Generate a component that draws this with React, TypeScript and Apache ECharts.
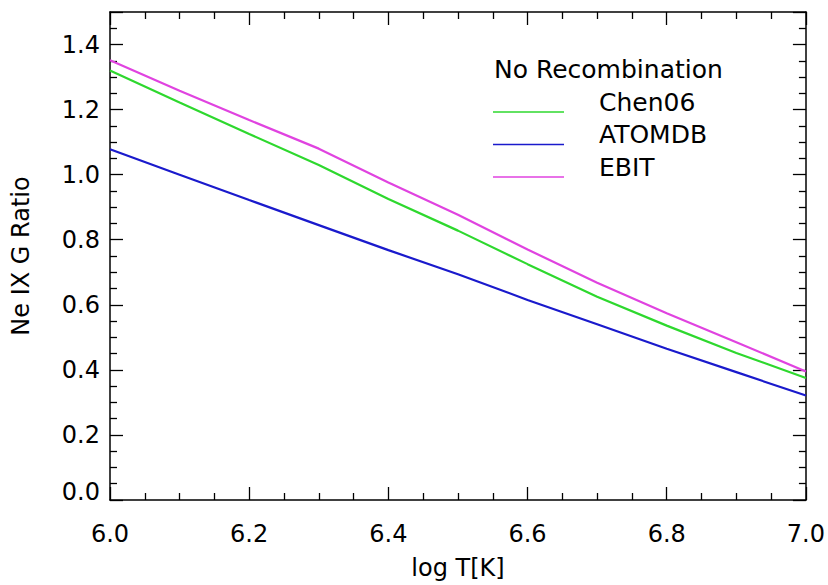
import React, { useEffect, useRef } from "react";
import * as echarts from "echarts";

const logT = [6.0, 6.1, 6.2, 6.3, 6.4, 6.5, 6.6, 6.7, 6.8, 6.9, 7.0];
const chen06 = [1.32, 1.222, 1.125, 1.03, 0.925, 0.828, 0.725, 0.625, 0.536, 0.452, 0.375];
const atomdb = [1.078, 1.0, 0.922, 0.845, 0.768, 0.694, 0.615, 0.54, 0.465, 0.393, 0.321];
const ebit = [1.352, 1.258, 1.168, 1.08, 0.976, 0.877, 0.77, 0.668, 0.574, 0.485, 0.395];

const seriesNames = ["Chen06", "ATOMDB", "EBIT"];
const seriesColors = ["#2ed82e", "#1a1acc", "#e043e0"];
const legendTitle = "No Recombination";
const xName = "log T[K]";
const yName = "Ne IX G Ratio";

const FONT = "'DejaVu Sans', 'Liberation Sans', Arial, sans-serif";

export default function App() {
  const ref = useRef<HTMLDivElement>(null);
  useEffect(() => {
    if (!ref.current) return;
    const chart = echarts.init(ref.current, undefined, { renderer: "svg" });
    const values = [chen06, atomdb, ebit];
    const axisCommon = {
      axisLine: { show: true, onZero: false, lineStyle: { color: "#000", width: 1.5 } },
      axisTick: { show: true, inside: true, length: 13, lineStyle: { color: "#000", width: 1.3 } },
      minorTick: { show: true, splitNumber: 4, length: 7, lineStyle: { color: "#000", width: 1.3 } },
      splitLine: { show: false },
    };
    chart.setOption({
      animation: false,
      backgroundColor: "#fff",
      textStyle: { fontFamily: FONT },
      grid: { left: 110, right: 20.5, top: 12, bottom: 77, containLabel: false },
      xAxis: [
        {
          type: "value",
          min: 6.0,
          max: 7.0,
          interval: 0.2,
          position: "bottom",
          name: xName,
          nameLocation: "middle",
          nameGap: 56,
          nameTextStyle: { color: "#000", fontSize: 24, fontFamily: FONT },
          axisLabel: {
            color: "#000",
            fontSize: 24,
            fontFamily: FONT,
            margin: 22,
            formatter: (v: number) => v.toFixed(1),
          },
          ...axisCommon,
        },
        {
          type: "value",
          min: 6.0,
          max: 7.0,
          interval: 0.2,
          position: "top",
          axisLabel: { show: false },
          ...axisCommon,
        },
      ],
      yAxis: [
        {
          type: "value",
          min: 0,
          max: 1.5,
          interval: 0.2,
          position: "left",
          name: yName,
          nameLocation: "middle",
          nameGap: 77,
          nameRotate: 90,
          nameTextStyle: { color: "#000", fontSize: 24, fontFamily: FONT },
          axisLabel: {
            color: "#000",
            fontSize: 24,
            fontFamily: FONT,
            margin: 10,
            showMaxLabel: false,
            formatter: (v: number) => (v === 0 ? "{z|0.0}" : v.toFixed(1)),
            rich: {
              z: { fontSize: 24, fontFamily: FONT, color: "#000", padding: [0, 0, 16, 0] },
            },
          },
          ...axisCommon,
        },
        {
          type: "value",
          min: 0,
          max: 1.5,
          interval: 0.2,
          position: "right",
          axisLabel: { show: false },
          ...axisCommon,
        },
      ],
      series: seriesNames.map((name, i) => ({
        name,
        type: "line",
        xAxisIndex: 0,
        yAxisIndex: 0,
        data: logT.map((x, j) => [x, values[i][j]]),
        showSymbol: false,
        symbol: "none",
        smooth: false,
        lineStyle: { color: seriesColors[i], width: 2.2 },
        itemStyle: { color: seriesColors[i] },
      })),
      graphic: [
        {
          type: "text",
          left: 494,
          top: 57,
          style: { text: legendTitle, fontSize: 25, fontFamily: FONT, fill: "#000" },
        },
        ...seriesNames.flatMap((name, i) => [
          {
            type: "line",
            shape: { x1: 493, y1: 112 + i * 32.5, x2: 564, y2: 112 + i * 32.5 },
            style: { stroke: seriesColors[i], lineWidth: 1.5 },
          },
          {
            type: "text",
            left: 599,
            top: 90 + i * 32.3,
            style: { text: name, fontSize: 25, fontFamily: FONT, fill: "#000" },
          },
        ]),
      ],
    });
    return () => chart.dispose();
  }, []);
  return (
    <div
      ref={ref}
      style={{ position: "absolute", left: 0, top: 0, width: 828, height: 585 }}
    />
  );
}
